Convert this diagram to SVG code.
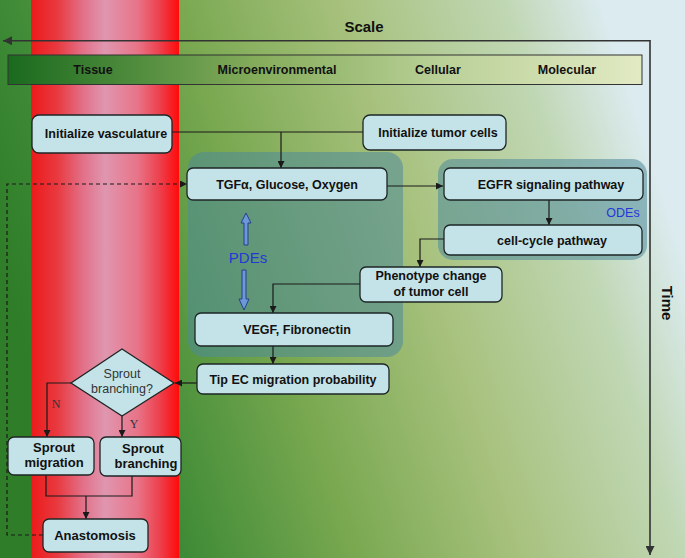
<svg xmlns="http://www.w3.org/2000/svg" width="685" height="558" viewBox="0 0 685 558">
<defs>
<linearGradient id="bg" gradientUnits="userSpaceOnUse" x1="60" y1="450" x2="680" y2="250">
<stop offset="0" stop-color="#2f7d28"/>
<stop offset="0.13" stop-color="#3e8a36"/>
<stop offset="0.38" stop-color="#79a850"/>
<stop offset="0.62" stop-color="#a7c17d"/>
<stop offset="0.86" stop-color="#c0d7b4"/>
<stop offset="1" stop-color="#dbebef"/>
</linearGradient>
<linearGradient id="red" x1="0" y1="0" x2="1" y2="0">
<stop offset="0" stop-color="#ec1a1a"/>
<stop offset="0.18" stop-color="#e83a40"/>
<stop offset="0.35" stop-color="#e27088"/>
<stop offset="0.5" stop-color="#e096b0"/>
<stop offset="0.72" stop-color="#e87488"/>
<stop offset="0.88" stop-color="#ee3c48"/>
<stop offset="1" stop-color="#ff0a0a"/>
</linearGradient>
<linearGradient id="bar" x1="0" y1="0" x2="1" y2="0">
<stop offset="0" stop-color="#1a6a1e"/>
<stop offset="0.4" stop-color="#86ad5c"/>
<stop offset="0.7" stop-color="#bcd29a"/>
<stop offset="1" stop-color="#e2eac4"/>
</linearGradient>
<marker id="ah" viewBox="0 0 10 10" refX="10" refY="5" markerWidth="7" markerHeight="7" markerUnits="userSpaceOnUse" orient="auto">
<path d="M0,0 L10,5 L0,10 z" fill="#1a1a1a"/>
</marker>
<marker id="ahs" viewBox="0 0 10 10" refX="10" refY="5" markerWidth="9" markerHeight="9" markerUnits="userSpaceOnUse" orient="auto">
<path d="M0,0 L10,5 L0,10 z" fill="#333"/>
</marker>
</defs>
<style>
.box{fill:#c4e3e8;stroke:#1e2626;stroke-width:1.3}
.t{font-family:"Liberation Sans",Arial,Helvetica,sans-serif;font-weight:bold;font-size:12.5px;fill:#111;text-anchor:middle}
.tn{font-family:"Liberation Sans",Arial,Helvetica,sans-serif;font-size:12.5px;fill:#333;text-anchor:middle}
.yn{font-family:"Liberation Serif","Times New Roman",serif;font-size:12px;fill:#333;text-anchor:middle}
.blue{font-family:"Liberation Sans",Arial,Helvetica,sans-serif;fill:#2438d8;text-anchor:middle}
.c{fill:none;stroke:#1a1a1a;stroke-width:1.2}
.region{fill:#4f8a9a;fill-opacity:0.55}
.pde{fill:#6a98d8;stroke:#2a3f8a;stroke-width:1}
</style>
<rect x="0" y="0" width="685" height="558" fill="url(#bg)"/>
<rect x="31" y="0" width="148" height="558" fill="url(#red)"/>

<g id="scale">
<text x="364" y="32" class="t" style="font-size:15px">Scale</text>
<polyline points="650,41 650,40.7 3,40.7" fill="none" stroke="#333" stroke-width="1.6" marker-end="url(#ahs)"/>
<polyline points="650,40.7 650,555" fill="none" stroke="#333" stroke-width="1.6" marker-end="url(#ahs)"/>
<rect x="8" y="55" width="634" height="29.5" fill="url(#bar)" stroke="#333" stroke-width="1"/>
<text x="93" y="74" class="t">Tissue</text>
<text x="277" y="74" class="t">Microenvironmental</text>
<text x="438" y="74" class="t">Cellular</text>
<text x="567" y="74" class="t">Molecular</text>
<text x="0" y="0" class="t" style="font-size:15px" transform="translate(662,303) rotate(90)">Time</text>
</g>

<g id="pde-region"><rect x="188" y="152" width="215" height="205" rx="16" class="region"/></g>
<g id="ode-region"><rect x="438" y="159" width="209" height="101" rx="15" class="region"/></g>

<g id="connectors">
<polyline class="c" points="172,132 363,132"/>
<polyline class="c" points="281,132 281,168" marker-end="url(#ah)"/>
<polyline class="c" points="387,186 443,186" marker-end="url(#ah)"/>
<polyline class="c" points="549,200 549,225" marker-end="url(#ah)"/>
<polyline class="c" points="444,239 420,239 420,267" marker-end="url(#ah)"/>
<polyline class="c" points="360,284 273,284 273,313" marker-end="url(#ah)"/>
<polyline class="c" points="273,346 273,364" marker-end="url(#ah)"/>
<polyline class="c" points="197,383 175,383" marker-end="url(#ah)"/>
<polyline class="c" points="71,383 47,383 47,437" marker-end="url(#ah)"/>
<polyline class="c" points="122,416 122,437" marker-end="url(#ah)"/>
<polyline class="c" points="46,475 46,496 132,496 132,476"/>
<polyline class="c" points="86,496 86,519" marker-end="url(#ah)"/>
<polyline class="c" points="43,535 7,535 7,184 187,184" stroke-dasharray="4,3" marker-end="url(#ah)"/>
<text x="56" y="408" class="yn">N</text>
<text x="134" y="428" class="yn">Y</text>
</g>

<g id="pdes">
<path class="pde" d="M246,213 L251,223 L248,223 L248,245 L244,245 L244,223 L241,223 z"/>
<text x="248" y="263" class="blue" style="font-size:15px">PDEs</text>
<path class="pde" d="M242,270 L246,270 L246,299 L249,299 L244,310 L239,299 L242,299 z"/>
</g>

<g id="n-vasc"><rect x="32" y="115" width="140" height="38" rx="7" class="box"/><text x="106" y="137.5" class="t">Initialize vasculature</text></g>
<g id="n-tumor"><rect x="363" y="115" width="143" height="35" rx="7" class="box"/><text x="438" y="136.5" class="t">Initialize tumor cells</text></g>
<g id="n-tgf"><rect x="187" y="168" width="200" height="32" rx="6" class="box"/><text x="287" y="188.5" class="t">TGFα, Glucose, Oxygen</text></g>
<g id="n-egfr"><rect x="444" y="168" width="199" height="32" rx="6" class="box"/><text x="551" y="188.5" class="t">EGFR signaling pathway</text></g>
<text x="623" y="217" class="blue" style="font-size:12.5px">ODEs</text>
<g id="n-cell"><rect x="444" y="225" width="198" height="30" rx="6" class="box"/><text x="552" y="244.5" class="t">cell-cycle pathway</text></g>
<g id="n-pheno"><rect x="360" y="267" width="142" height="35" rx="6" class="box"/><text x="431" y="279.5" class="t">Phenotype change</text><text x="431" y="295.5" class="t">of tumor cell</text></g>
<g id="n-vegf"><rect x="195" y="313" width="198" height="33" rx="6" class="box"/><text x="297" y="333.5" class="t">VEGF, Fibronectin</text></g>
<g id="n-tip"><rect x="197" y="364" width="192" height="30" rx="6" class="box"/><text x="293" y="383.5" class="t">Tip EC migration probability</text></g>
<g id="n-diamond"><polygon points="122,349 174,383 122,416 71,383" class="box"/><text x="122" y="378" class="tn">Sprout</text><text x="122" y="393" class="tn">branching?</text></g>
<g id="n-mig"><rect x="8" y="437" width="86" height="38" rx="6" class="box"/><text x="54" y="452" class="t" style="font-size:13px">Sprout</text><text x="54" y="467" class="t" style="font-size:13px">migration</text></g>
<g id="n-branch"><rect x="100" y="437" width="81" height="39" rx="6" class="box"/><text x="143" y="453" class="t" style="font-size:13px">Sprout</text><text x="146" y="468" class="t" style="font-size:13px">branching</text></g>
<g id="n-anast"><rect x="43" y="519" width="105" height="33" rx="6" class="box"/><text x="95" y="539.5" class="t" style="font-size:13px">Anastomosis</text></g>
</svg>
